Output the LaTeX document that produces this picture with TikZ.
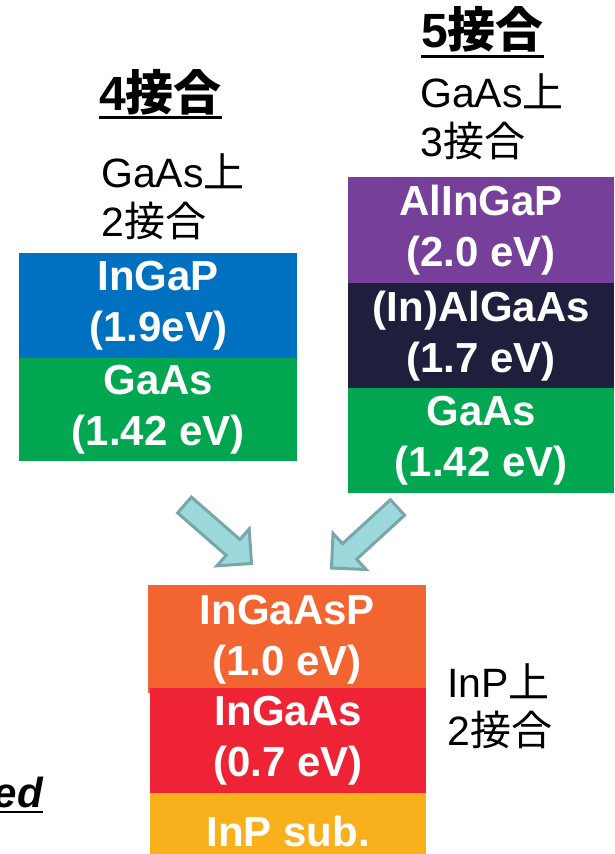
\documentclass[tikz,border=0pt]{standalone}
\usepackage{fontspec}
\setmainfont{Liberation Sans}
\newfontfamily\cjk{Noto Sans CJK JP}
\usetikzlibrary{calc}

\definecolor{cBlue}{HTML}{0070C0}
\definecolor{cGreen}{HTML}{00A650}
\definecolor{cPurple}{HTML}{763F9A}
\definecolor{cNavy}{HTML}{1E1F3C}
\definecolor{cOrange}{HTML}{F26531}
\definecolor{cRed}{HTML}{EE2436}
\definecolor{cYellow}{HTML}{F8B11C}
\definecolor{arrowfill}{HTML}{9DD8DC}
\definecolor{arrowedge}{HTML}{78A7A8}

\begin{document}
\begin{tikzpicture}[x=1pt,y=-1pt,
  layer/.style={rectangle, inner sep=0pt, anchor=north west, text=white,
    align=center, font=\fontsize{42}{51}\selectfont\bfseries,
    execute at begin node={\rule{0pt}{37pt}}},
  thinlayer/.style={layer, execute at begin node={\rule{0pt}{46pt}}},
  lbl/.style={inner sep=0pt, anchor=base west, font=\fontsize{41}{46}\selectfont},
  ttl/.style={inner sep=0pt, anchor=base west, font=\fontsize{48}{54}\selectfont\bfseries},
  uline/.style={line width=3pt},
  blockarrow/.style={fill=arrowfill, draw=arrowedge, line width=3pt, line join=miter}]

\useasboundingbox (0,0) rectangle (614,854);

% 4-junction: two junctions on GaAs
\node[ttl] (t4) at (99,110) {4{\cjk 接合}};
\draw[uline] ([yshift=-7pt]t4.base west) -- ([yshift=-7pt]t4.base east);
\node[lbl] (l4a) at (101,187) {GaAs{\cjk 上}};
\node[lbl] (l4b) at (101,236) {2{\cjk 接合}};
\node[layer, fill=cBlue, minimum width=278pt, minimum height=105pt] (ingap) at (19,253) {InGaP\\(1.9eV)};
\node[layer, fill=cGreen, minimum width=278pt, minimum height=103pt] (gaasL) at (19,358) {GaAs\\(1.42 eV)};

% 5-junction: three junctions on GaAs
\node[ttl] (t5) at (421,47) {5{\cjk 接合}};
\draw[uline] ([yshift=-9pt]t5.base west) -- ([yshift=-9pt]t5.base east);
\node[lbl] (l5a) at (420,107) {GaAs{\cjk 上}};
\node[lbl] (l5b) at (420,156) {3{\cjk 接合}};
\node[layer, fill=cPurple, minimum width=266pt, minimum height=106pt] (alingap) at (348,177) {AlInGaP\\(2.0 eV)};
\node[layer, fill=cNavy, minimum width=266pt, minimum height=105pt] (inalgaas) at (348,283) {(In)AlGaAs\\(1.7 eV)};
\node[layer, fill=cGreen, minimum width=266pt, minimum height=105pt] (gaasR) at (348,388) {GaAs\\(1.42 eV)};

% two junctions on InP
\node[layer, fill=cOrange, minimum width=278pt, minimum height=108pt] (ingaasp) at (148,585) {InGaAsP\\(1.0 eV)};
\node[layer, fill=cRed, minimum width=276pt, minimum height=105pt] (ingaas) at (150,688) {InGaAs\\(0.7 eV)};
\node[thinlayer, fill=cYellow, minimum width=276pt, minimum height=61pt] (inpsub) at (150,793) {InP sub.};
\node[lbl] (lpa) at (447,697) {InP{\cjk 上}};
\node[lbl] (lpb) at (447,745) {2{\cjk 接合}};

% block arrows merging into the InP stack
\coordinate (aLt) at (184.5,505);
\coordinate (aLp) at (251.5,563.5);
\coordinate (aLh) at ($(aLp)!24.5pt!(aLt)$);
\draw[blockarrow] ($(aLt)!10.5pt!90:(aLp)$) -- ($(aLh)!10.5pt!90:(aLp)$)
  -- ($(aLh)!24.5pt!90:(aLp)$) -- (aLp) -- ($(aLh)!24.5pt!-90:(aLp)$)
  -- ($(aLh)!10.5pt!-90:(aLp)$) -- ($(aLt)!10.5pt!-90:(aLp)$) -- cycle;

\coordinate (aRt) at (397.5,507.5);
\coordinate (aRp) at (331.5,568);
\coordinate (aRh) at ($(aRp)!24.5pt!(aRt)$);
\draw[blockarrow] ($(aRt)!10.5pt!90:(aRp)$) -- ($(aRh)!10.5pt!90:(aRp)$)
  -- ($(aRh)!24.5pt!90:(aRp)$) -- (aRp) -- ($(aRh)!24.5pt!-90:(aRp)$)
  -- ($(aRh)!10.5pt!-90:(aRp)$) -- ($(aRt)!10.5pt!-90:(aRp)$) -- cycle;

% tail of a word running in from the left
\node[inner sep=0pt, anchor=base east, font=\fontsize{42}{48}\selectfont\bfseries\itshape] (edw) at (43,807) {ed};
\draw[line width=2.5pt] (0,812) -- (edw.base east |- 0,812);
\end{tikzpicture}
\end{document}
